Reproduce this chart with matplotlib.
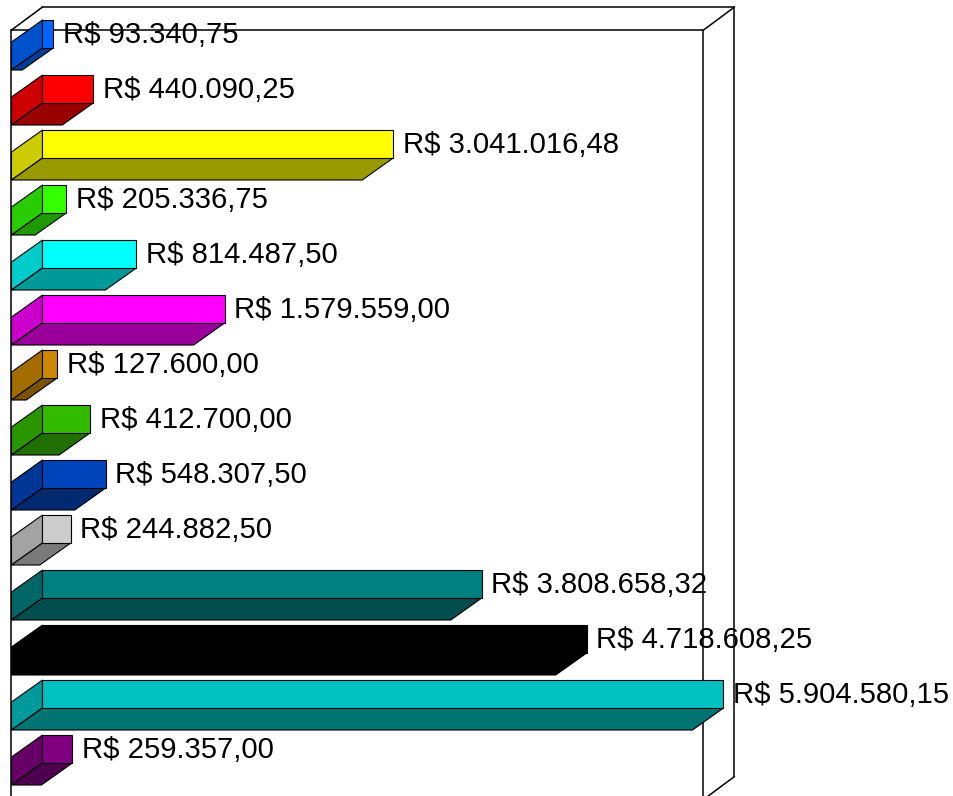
import matplotlib
matplotlib.use("Agg")
import matplotlib.pyplot as plt
from matplotlib.patches import Polygon

plt.rcParams['font.family'] = ['Liberation Sans', 'DejaVu Sans']

# values top to bottom
values = [93340.75, 440090.25, 3041016.48, 205336.75, 814487.50, 1579559.00, 127600.00,
          412700.00, 548307.50, 244882.50, 3808658.32, 4718608.25, 5904580.15, 259357.00]
labels = ["R$ 93.340,75", "R$ 440.090,25", "R$ 3.041.016,48", "R$ 205.336,75",
          "R$ 814.487,50", "R$ 1.579.559,00", "R$ 127.600,00", "R$ 412.700,00",
          "R$ 548.307,50", "R$ 244.882,50", "R$ 3.808.658,32", "R$ 4.718.608,25",
          "R$ 5.904.580,15", "R$ 259.357,00"]
colors = ["#0066FF", "#FF0000", "#FFFF00", "#33FF00", "#00FFFF", "#FF00FF", "#CC8800",
          "#33BB00", "#0044BB", "#CCCCCC", "#008080", "#000000", "#00C0C0", "#800080"]

AXIS_MAX = 6000000

# pixel sizes of the fake 3d
fig_w, fig_h = 954, 796
left_px = 11.5
top_px = 34
row_px = 55
per_px = AXIS_MAX / 692.0      # value per pixel
depth_x = 31 * per_px          # depth shift in value units
depth_y = 22.0 / row_px        # depth shift in row units
half_bar = 14.0 / row_px
box_depth_y = 23.0 / row_px


def shade(color, f):
    rgb = matplotlib.colors.to_rgb(color)
    return tuple(c * f for c in rgb)


fig = plt.figure(figsize=(fig_w / 100, fig_h / 100), dpi=100)
ax = fig.add_axes([0, 0, 1, 1])
ax.set_xlim(-left_px * per_px, (fig_w - left_px) * per_px)
ax.set_ylim((fig_h - top_px) / row_px, -top_px / row_px)
ax.axis("off")

# box, front plane at x=0, back plane shifted by depth
y_top = -0.49
y_bot = 13.5
frame = [
    ([0, AXIS_MAX], [y_top + box_depth_y, y_top + box_depth_y]),
    ([0, 0], [y_top + box_depth_y, y_bot + box_depth_y]),
    ([AXIS_MAX, AXIS_MAX], [y_top + box_depth_y, y_bot + box_depth_y]),
    ([depth_x, AXIS_MAX + depth_x], [y_top, y_top]),
    ([0, depth_x], [y_top + box_depth_y, y_top]),
    ([AXIS_MAX, AXIS_MAX + depth_x], [y_top + box_depth_y, y_top]),
    ([AXIS_MAX + depth_x, AXIS_MAX + depth_x], [y_top, y_bot]),
    ([AXIS_MAX, AXIS_MAX + depth_x], [y_bot + box_depth_y, y_bot]),
]
for xs, ys in frame:
    ax.plot(xs, ys, color="black", lw=1.1, zorder=1, solid_capstyle="round")

for i, (v, lab, col) in enumerate(zip(values, labels, colors)):
    x0 = depth_x
    x1 = depth_x + v
    top = i - half_bar
    bot = i + half_bar
    # left side
    ax.add_patch(Polygon([(0, top + depth_y), (x0, top), (x0, bot), (0, bot + depth_y)],
                         facecolor=shade(col, 0.8), edgecolor="black", lw=0.8, zorder=2))
    # floor side
    ax.add_patch(Polygon([(0, bot + depth_y), (x0, bot), (x1, bot), (v, bot + depth_y)],
                         facecolor=shade(col, 0.6), edgecolor="black", lw=0.8, zorder=2))
    # main face
    ax.add_patch(Polygon([(x0, top), (x1, top), (x1, bot), (x0, bot)],
                         facecolor=col, edgecolor="black", lw=0.8, zorder=3))
    ax.annotate(lab, (x1, i), xytext=(7.0, -0.9), textcoords="offset points",
                ha="left", va="center", fontsize=21.1, color="black", zorder=4)

fig.savefig("out.png", dpi=100, facecolor="white")
